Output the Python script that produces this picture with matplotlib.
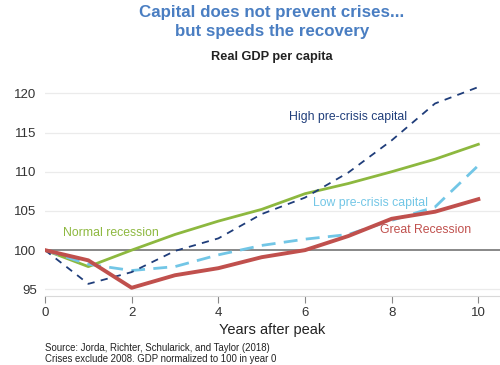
import matplotlib
matplotlib.use('Agg')
import matplotlib.pyplot as plt

plt.rcParams['font.family'] = ['Liberation Sans', 'DejaVu Sans']

# Data
years = [0, 1, 2, 3, 4, 5, 6, 7, 8, 9, 10]
normal_recession = [100, 97.9, 100.0, 102.0, 103.7, 105.2, 107.2, 108.5, 110.0, 111.6, 113.5]
great_recession = [100, 98.7, 95.2, 96.8, 97.7, 99.1, 100.0, 101.8, 104.0, 104.9, 106.5]
high_capital = [100, 95.7, 97.2, 99.9, 101.5, 104.6, 106.7, 109.9, 114.0, 118.7, 120.8]
low_capital = [100, 98.2, 97.4, 97.9, 99.4, 100.6, 101.4, 102.0, 103.8, 105.5, 110.8]
yticks = [95, 100, 105, 110, 115, 120]
xticks = [0, 2, 4, 6, 8, 10]

green = '#8DB83F'
red = '#C0504D'
navy = '#1F3D7A'
light_blue = '#72C6E6'

fig = plt.figure(figsize=(5, 3.65), dpi=100)
ax = fig.add_axes([0.09, 0.189, 0.91, 0.594])

for y in yticks:
    if y != 100:
        ax.axhline(y, color='#EBEBEB', lw=0.9, zorder=0)
ax.axhline(100, color='#7F7F7F', lw=1.3, zorder=1)

ax.plot(years, normal_recession, color=green, lw=2, zorder=3)
ax.plot(years, low_capital, color=light_blue, lw=2, dashes=(5, 3), zorder=3)
ax.plot(years, high_capital, color=navy, lw=1.3, dashes=(4, 3.5), zorder=4)
ax.plot(years, great_recession, color=red, lw=2.8, zorder=5)

ax.text(7.0, 117.0, 'High pre-crisis capital', color=navy, fontsize=8.8, ha='center', va='center')
ax.text(0.42, 102.2, 'Normal recession', color=green, fontsize=8.8, ha='left', va='center')
ax.text(6.19, 106.0, 'Low pre-crisis capital', color=light_blue, fontsize=8.8, ha='left', va='center')
ax.text(7.74, 102.6, 'Great Recession', color=red, fontsize=8.8, ha='left', va='center')

ax.set_xlim(0, 10.5)
ax.set_ylim(94.15, 121.8)
ax.set_xticks(xticks)
ax.set_yticks(yticks)
ax.tick_params(axis='y', length=0, labelsize=9.5, pad=6, colors='#333333')
ax.tick_params(axis='x', length=5, color='#888888', labelsize=9.5, colors='#333333', pad=3)
for s in ['top', 'right', 'left']:
    ax.spines[s].set_visible(False)
ax.spines['bottom'].set_color('#D9D9D9')
ax.set_xlabel('Years after peak', fontsize=10.5, color='#222222', labelpad=3)

fig.text(0.544, 0.967, 'Capital does not prevent crises...', color='#4A7EC2',
         fontsize=12.2, fontweight='bold', ha='center', va='center')
fig.text(0.544, 0.914, 'but speeds the recovery', color='#4A7EC2',
         fontsize=12.2, fontweight='bold', ha='center', va='center')
fig.text(0.544, 0.845, 'Real GDP per capita', fontsize=9.2, fontweight='bold', ha='center', va='center',
         color='#222222')
fig.text(0.09, 0.032, 'Source: Jorda, Richter, Schularick, and Taylor (2018)\nCrises exclude 2008. GDP normalized to 100 in year 0',
         fontsize=6.9, ha='left', va='center', color='#222222', linespacing=1.1)

plt.savefig('out.png', dpi=100)
